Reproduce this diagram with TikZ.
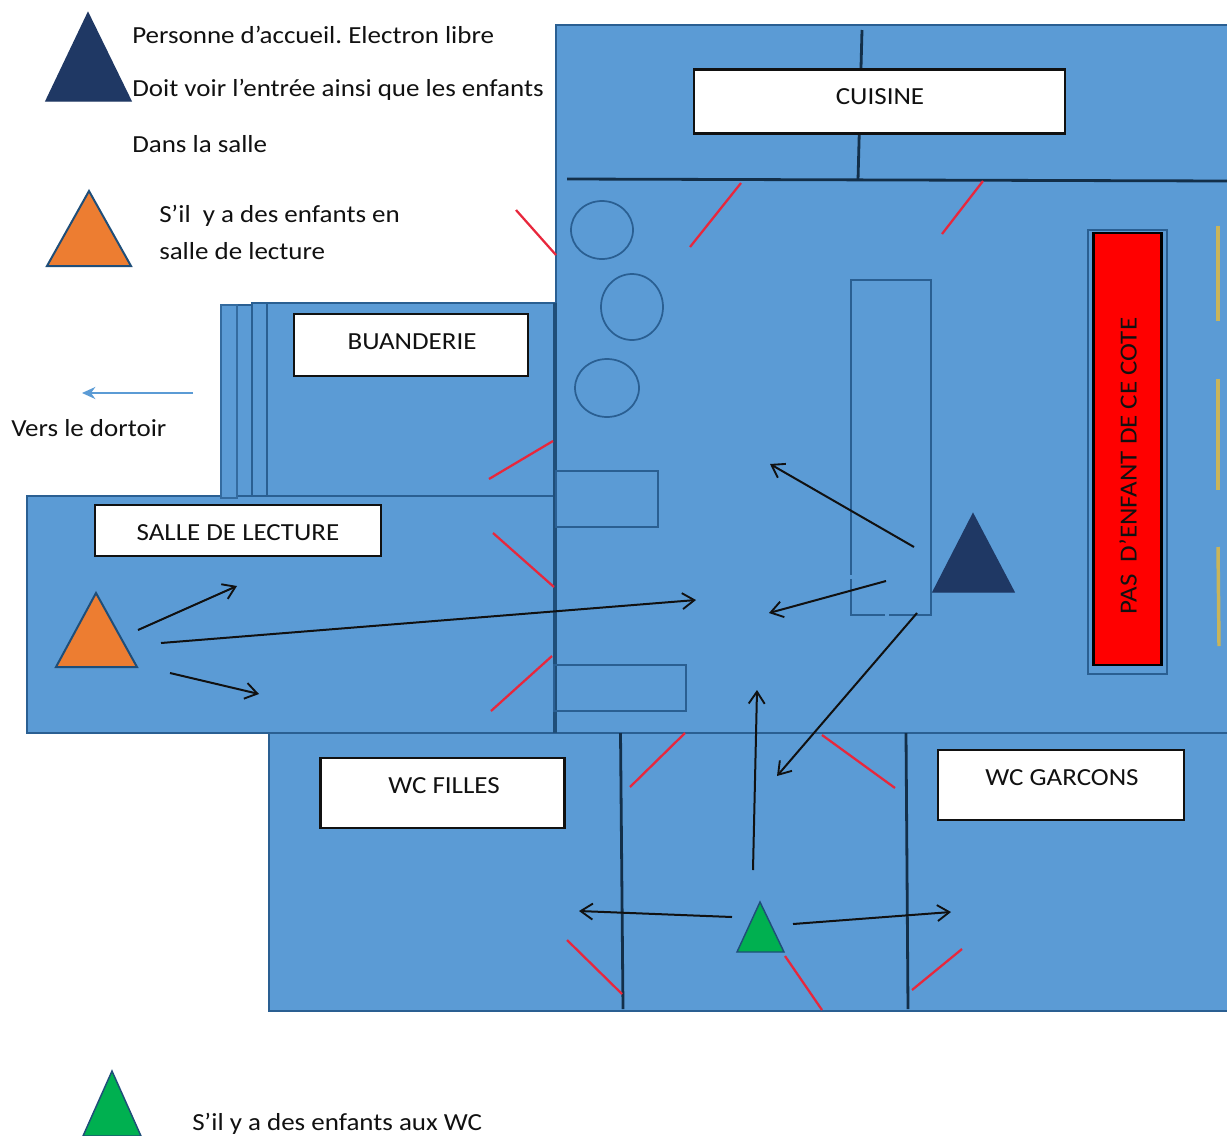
\documentclass[tikz,border=0pt]{standalone}
\usepackage{fontspec}
\setmainfont[FakeStretch=1.1]{Carlito}
\usetikzlibrary{arrows.meta}
\definecolor{roomblue}{HTML}{5B9BD5}
\definecolor{edgeblue}{HTML}{2A5F92}
\definecolor{wallblue}{HTML}{1F4E79}
\definecolor{navytri}{HTML}{1F3864}
\definecolor{orangetri}{HTML}{ED7D31}
\definecolor{greentri}{HTML}{00B050}
\definecolor{doorred}{HTML}{E8273C}
\definecolor{winyellow}{HTML}{C9B45A}
\definecolor{inkblack}{HTML}{111111}
\tikzset{
  room/.style={fill=roomblue,draw=edgeblue,line width=1.4pt},
  outline/.style={draw=edgeblue,line width=1.3pt},
  wall/.style={draw=wallblue!60!black,line width=2.1pt},
  door/.style={draw=doorred,line width=1.7pt},
  flow/.style={draw=inkblack,line width=1.5pt,-{Straight Barb[length=9pt,width=12pt,line width=1.4pt]}},
  labelbox/.style={draw=inkblack,fill=white,line width=1.7pt},
  tag/.style={font=\fontsize{18.4}{21}\selectfont\frenchspacing,text=inkblack,inner sep=0pt},
  note/.style={tag,anchor=west},
  tri/.style={line width=1.1pt,line join=miter},
  win/.style={draw=winyellow,line width=2.6pt}
}
\begin{document}
\begin{tikzpicture}[x=0.75pt,y=-0.75pt]
\useasboundingbox (0,0) rectangle (1227,1135);
% rooms
\fill[roomblue] (556,25) rectangle (1227,733);
\draw[outline] (1227,25) -- (556,25) -- (556,303);
\draw[room] (237,305) rectangle (252,496);
\draw[room] (252,303) rectangle (554,496);
\draw[room,line width=1.8pt] (252,303) rectangle (267,496);
\draw[room] (27,496) rectangle (555,733);
\draw[room,draw=edgeblue!80!roomblue] (221,305) rectangle (237,498);
\draw[room] (1228,733) -- (269,733) -- (269,1011) -- (1228,1011);
\fill[roomblue] (557,304) rectangle (700,732);
% walls
\draw[wall,draw=wallblue,line width=2.9pt] (555,303) -- (555,733);
\draw[wall] (567,179) -- (1227,181);
\draw[wall] (862,30) -- (858,180);
\draw[wall] (620.5,733) -- (623,1009);
\draw[wall] (906,733) -- (908,1009);
% furniture
\draw[outline] (602,230) ellipse (31 and 29);
\draw[outline] (632,307) ellipse (31 and 33);
\draw[outline] (607,388) ellipse (32 and 29);
\draw[outline] (556,471) rectangle (658,527);
\draw[outline] (554,665) rectangle (686,711);
\draw[outline] (851,280) rectangle (931,615);
\draw[roomblue,line width=2pt] (851,575) -- (851,579);
\draw[roomblue,line width=2pt] (885,615) -- (889,615);
% red zone
\draw[outline,line width=1.7pt,fill=roomblue] (1088,230) rectangle (1167,674);
\node[draw=black,fill=red,line width=1.7pt,minimum width=51pt,minimum height=324pt,inner sep=0pt] (nochild) at (1127.5,449) {};
\node[tag,rotate=90] (nochildtext) at (1128,466) {PAS\ \ D’ENFANT DE CE COTE};
% windows
\draw[win] (1218,226) -- (1218,321);
\draw[win] (1218,379) -- (1218,490);
\draw[win] (1218,547) -- (1219,646);
% doors
\draw[door] (516,210) -- (556,255);
\draw[door] (741,183) -- (690,247);
\draw[door] (983,181) -- (942,234);
\draw[door] (553,441) -- (489,479);
\draw[door] (493,533) -- (554,587);
\draw[door] (552,656) -- (491,711);
\draw[door] (685,733) -- (630,787);
\draw[door] (822,735) -- (895,788);
\draw[door] (567,940) -- (622,994);
\draw[door] (785,956) -- (822,1010);
\draw[door] (962,949) -- (912,990);
% labels
\node[labelbox,minimum width=278pt,minimum height=48pt,inner sep=0pt] (cuisinebox) at (879.5,101.5) {};
\node[tag] (cuisine) at (880,97) {CUISINE};
\node[labelbox,minimum width=175pt,minimum height=46pt,inner sep=0pt] (buabox) at (411,345) {};
\node[tag] (bua) at (412,342) {BUANDERIE};
\node[labelbox,minimum width=215pt,minimum height=38pt,inner sep=0pt] (lecbox) at (238,530.5) {};
\node[tag] (lec) at (238,533) {SALLE DE LECTURE};
\node[labelbox,minimum width=183pt,minimum height=52pt,inner sep=0pt] (wcfbox) at (442.5,793) {};
\node[tag] (wcf) at (444,785.5) {WC FILLES};
\node[labelbox,minimum width=184pt,minimum height=53pt,inner sep=0pt] (wcgbox) at (1061,785) {};
\node[tag] (wcg) at (1062,777.5) {WC GARCONS};
% triangles
\draw[tri,fill=navytri,draw=navytri] (88,13) -- (131,101) -- (46,101) -- cycle;
\draw[tri,fill=orangetri,draw=wallblue,line width=1.5pt] (89,191) -- (131,266) -- (47,266) -- cycle;
\draw[tri,fill=orangetri,draw=wallblue,line width=1.5pt] (96,593) -- (137,667) -- (56,667) -- cycle;
\draw[tri,fill=navytri,draw=navytri] (973,514) -- (1014,592) -- (933,592) -- cycle;
\draw[tri,fill=greentri,draw=wallblue] (760,902) -- (784,952) -- (737,952) -- cycle;
\draw[tri,fill=greentri,draw=wallblue] (112,1071) -- (141,1136) -- (83,1136) -- cycle;
% arrows
\coordinate (a1s) at (138,630); \coordinate (a1e) at (237,586);
\coordinate (a2s) at (161,643); \coordinate (a2e) at (696,600);
\coordinate (a3s) at (170,673); \coordinate (a3e) at (259,694);
\coordinate (a4s) at (914,547); \coordinate (a4e) at (770,464);
\coordinate (a5s) at (886,581); \coordinate (a5e) at (769,613);
\coordinate (a6s) at (917,613); \coordinate (a6e) at (777,776);
\coordinate (a7s) at (753,870); \coordinate (a7e) at (757,690);
\coordinate (a8s) at (732,917); \coordinate (a8e) at (579,911);
\coordinate (a9s) at (793,924); \coordinate (a9e) at (951,912);
\draw[flow] (a1s) -- (a1e);
\draw[flow] (a2s) -- (a2e);
\draw[flow] (a3s) -- (a3e);
\draw[flow] (a4s) -- (a4e);
\draw[flow] (a5s) -- (a5e);
\draw[flow] (a6s) -- (a6e);
\draw[flow] (a7s) -- (a7e);
\draw[flow] (a8s) -- (a8e);
\draw[flow] (a9s) -- (a9e);
\coordinate (dorts) at (193,393); \coordinate (dorte) at (82,393);
\draw[draw=roomblue,line width=1.5pt,-{Stealth[length=10pt,width=9pt]}] (dorts) -- (dorte);
% notes
\node[note] (n1) at (132,34.5) {Personne d’accueil. Electron libre};
\node[note] (n2) at (132,89.5) {Doit voir l’entrée ainsi que les enfants};
\node[note] (n3) at (132,144) {Dans la salle};
\node[note] (n4) at (159,216) {S’il\ \ y a des enfants en};
\node[note] (n5) at (159,251) {salle de lecture};
\node[note] (n6) at (11,428) {Vers le dortoir};
\node[note] (n7) at (192,1124) {S’il y a des enfants aux WC};
\end{tikzpicture}
\end{document}
